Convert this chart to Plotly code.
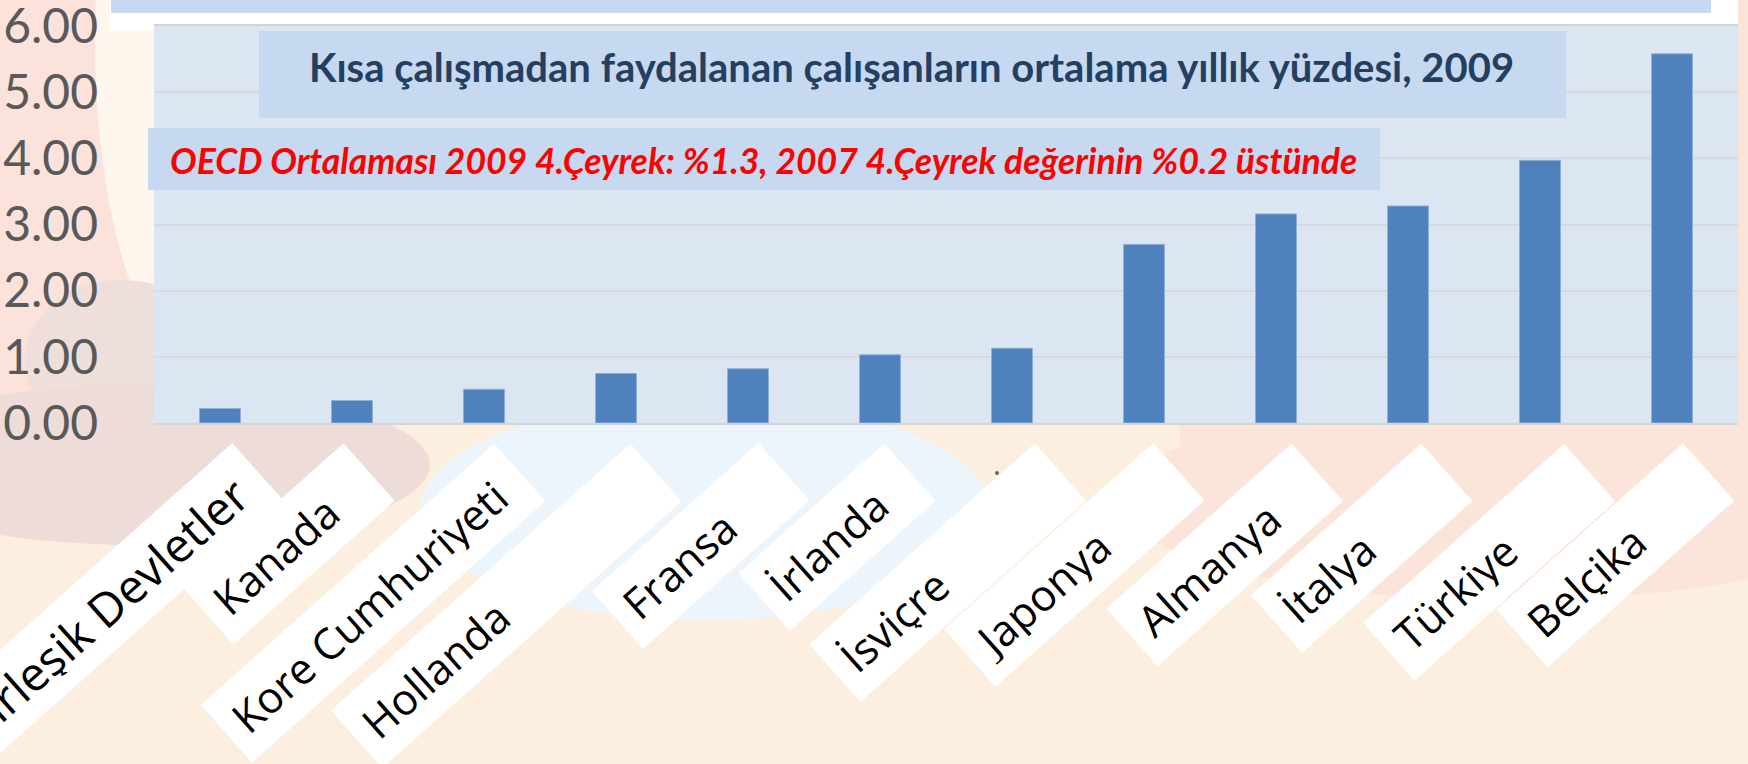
import plotly.graph_objects as go

# ---------------- data ----------------
countries = ["Birleşik Devletler", "Kanada", "Kore Cumhuriyeti", "Hollanda", "Fransa",
             "İrlanda", "İsviçre", "Japonya", "Almanya", "İtalya", "Türkiye", "Belçika"]
values = [0.22, 0.34, 0.51, 0.75, 0.82, 1.03, 1.13, 2.70, 3.16, 3.28, 3.97, 5.58]
y_ticks = [0, 1, 2, 3, 4, 5, 6]
title_text = "Kısa çalışmadan faydalanan çalışanların ortalama yıllık yüzdesi, 2009"
note_text = "OECD Ortalaması 2009 4.Çeyrek: %1.3, 2007 4.Çeyrek değerinin %0.2 üstünde"

# ---------------- layout geometry (pixels) ----------------
W, H = 1748, 764
PL, PR, PT, PB = 154, 1738, 26, 423          # plot area edges
box_top_x = [232, 343, 494, 630, 758, 884, 1034, 1153, 1291, 1421, 1564, 1683]
box_len = [405, 215, 392, 400, 222, 194, 301, 279, 247, 227, 268, 249]
label_size = [47, 43, 43, 43, 43, 43, 43, 43, 43, 43, 43, 43]
BOX_W, PAD, ANG = 76, 15, -41.7
cat_w = (PR - PL) / len(countries)


def px(x):
    return (x - PL) / (PR - PL)


def py(y):
    return (PB - y) / (PB - PT)


fig = go.Figure()
fig.add_trace(go.Bar(
    x=countries, y=values,
    marker=dict(color="#4f81bd", line=dict(color="#8fb0da", width=1)),
    width=0.31, hoverinfo="x+y",
))

shapes = []


def rect(x0, y0, x1, y1, color, layer="below"):
    shapes.append(dict(type="rect", xref="paper", yref="paper", x0=px(x0), x1=px(x1),
                       y0=py(y1), y1=py(y0), fillcolor=color, line=dict(width=0), layer=layer))


def ell(x0, y0, x1, y1, color):
    shapes.append(dict(type="circle", xref="paper", yref="paper", x0=px(x0), x1=px(x1),
                       y0=py(y1), y1=py(y0), fillcolor=color, line=dict(width=0), layer="below"))


# decorative background
rect(0, 0, 160, 430, "#fbe2da")
ell(95, -300, 330, 380, "#fff6ee")
ell(25, 280, 220, 440, "#efdfda")
ell(-150, 385, 430, 545, "#eddcd7")
ell(420, 400, 990, 620, "#ecf5fb")
ell(1230, 405, 1320, 465, "#fdf2d6")
rect(1180, 423, 1748, 520, "#fbe5da")
ell(1120, 400, 1900, 600, "#fbe5da")
rect(1738, 0, 1748, 430, "#fbe3da")
rect(110, 0, 1738, 30, "#ffffff")
# plot background
rect(PL, PT, PR, PB, "#dce6f2")
# banner and title boxes
rect(111, 0, 1711, 13, "#c6d9f1", "above")
rect(259, 31, 1566, 118, "#c6d9f1", "above")
rect(148, 128, 1380, 190, "#c6d9f1", "above")
# small stray dot
shapes.append(dict(type="circle", xref="paper", yref="paper", x0=px(995), x1=px(999),
                   y0=py(475), y1=py(471), fillcolor="#666666", line=dict(width=0), layer="above"))

annotations = [
    dict(text="<b>" + title_text + "</b>", xref="paper", yref="paper", x=px(911), y=py(67),
         xanchor="center", yanchor="middle", showarrow=False,
         font=dict(family="Lato", size=40, color="#243f60")),
    dict(text="<b><i>" + note_text + "</i></b>", xref="paper", yref="paper", x=px(168), y=py(160),
         xanchor="left", yanchor="middle", showarrow=False,
         font=dict(family="Lato", size=35.5, color="#ff0000")),
]

for i, (name, tx, L, fs) in enumerate(zip(countries, box_top_x, box_len, label_size)):
    cx = tx + 25.5 - 0.3735 * L
    cy = 472.5 + 0.3325 * L
    bar_c = PL + cat_w * (i + 0.5)
    annotations.append(dict(
        text=name, xref="x", yref="y", x=name, y=0,
        xshift=cx - bar_c, yshift=-(cy - PB),
        xanchor="center", yanchor="middle", showarrow=False,
        textangle=ANG, align="left", valign="middle",
        width=L - 2 * PAD, height=BOX_W - 2 * PAD, borderpad=PAD,
        bgcolor="#ffffff",
        font=dict(family="Open Sans", size=fs, color="#000000"),
    ))

fig.update_layout(
    width=W, height=H, autosize=False,
    margin=dict(l=PL, r=W - PR, t=PT, b=H - PB, pad=0, autoexpand=False),
    paper_bgcolor="#fdefdf", plot_bgcolor="rgba(0,0,0,0)",
    showlegend=False, bargap=0.69,
    shapes=shapes, annotations=annotations,
    xaxis=dict(showticklabels=False, showgrid=False, zeroline=False, automargin=False,
               showline=True, mirror=True, linecolor="#d4d4d4", linewidth=2,
               range=[-0.5, len(countries) - 0.5], fixedrange=True),
    yaxis=dict(range=[0, 6], tickvals=y_ticks, tickformat=".2f", automargin=False,
               showgrid=True, gridcolor="#d7d9dc", gridwidth=2, zeroline=False,
               showline=False, ticks="", ticklabelstandoff=55, ticklabeloverflow="allow",
               tickfont=dict(family="Lato", size=48, color="#595959"), fixedrange=True),
)

fig.write_html("out.html", include_plotlyjs=True, full_html=True,
               config=dict(displayModeBar=False))
